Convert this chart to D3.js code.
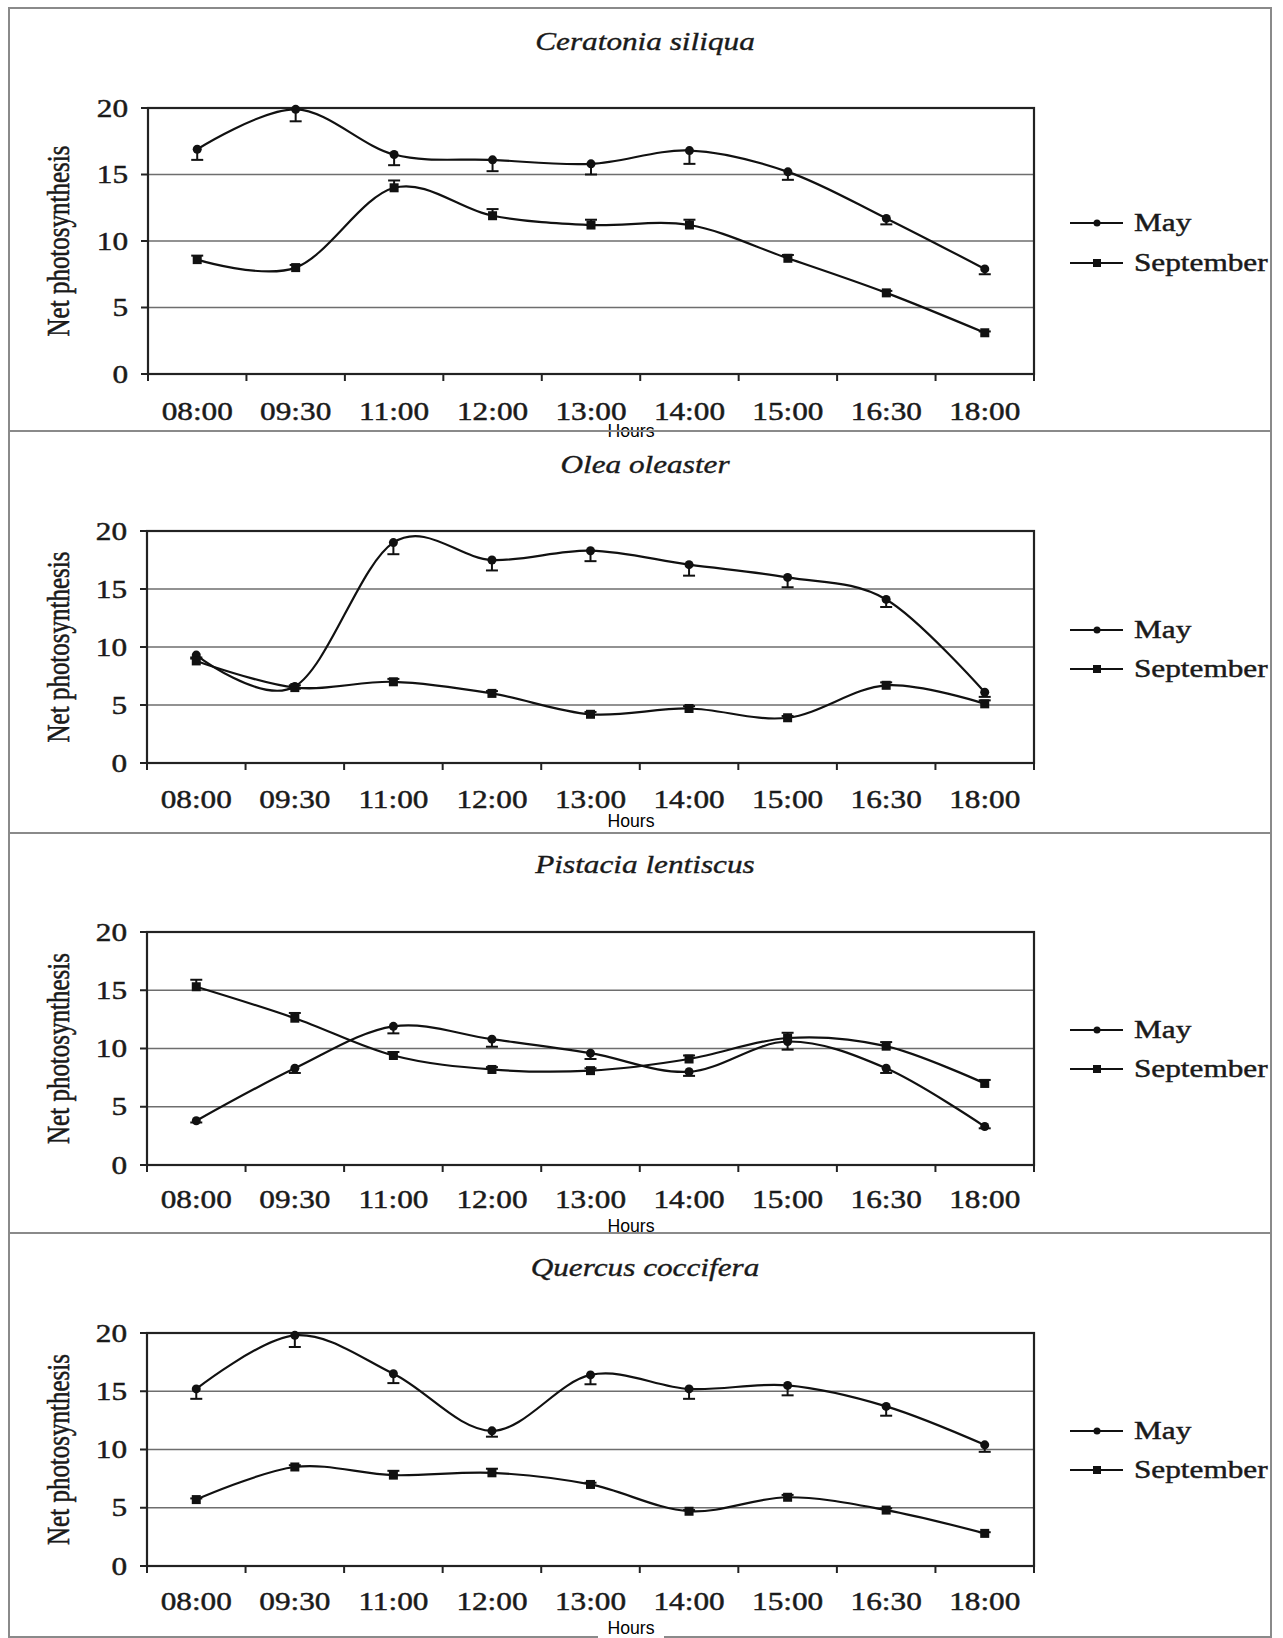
<!DOCTYPE html>
<html>
<head>
<meta charset="utf-8">
<script src="https://cdn.jsdelivr.net/npm/d3@7"></script>
<style>
body { margin: 0; background: #fff; }
svg { display: block; }
</style>
</head>
<body>
<main></main>
<script>
// Data
const hours = ['08:00', '09:30', '11:00', '12:00', '13:00', '14:00', '15:00', '16:30', '18:00']
const species = ['Ceratonia siliqua', 'Olea oleaster', 'Pistacia lentiscus', 'Quercus coccifera']
const seriesNames = ['May', 'September']
const yTicks = [0, 5, 10, 15, 20]
const axisTitleY = 'Net photosynthesis'
const axisTitleX = 'Hours'

const ceratoniaMay = [16.9, 19.9, 16.5, 16.1, 15.8, 16.8, 15.2, 11.7, 7.9]
const ceratoniaMayErr = [0.8, 0.9, 0.8, 0.85, 0.8, 1.0, 0.6, 0.45, 0.4]
const ceratoniaSep = [8.6, 8.0, 14.0, 11.9, 11.2, 11.2, 8.7, 6.1, 3.1]
const ceratoniaSepErr = [0.3, 0.2, 0.55, 0.5, 0.4, 0.4, 0.25, 0.15, 0.1]

const oleaMay = [9.3, 6.6, 19.0, 17.5, 18.3, 17.1, 16.0, 14.1, 6.1]
const oleaMayErr = [0.3, 0.2, 1.0, 0.9, 0.9, 0.95, 0.85, 0.65, 0.4]
const oleaSep = [8.8, 6.5, 7.0, 6.0, 4.2, 4.7, 3.9, 6.7, 5.1]
const oleaSepErr = [0.3, 0.2, 0.25, 0.2, 0.2, 0.2, 0.15, 0.25, 0.3]

const pistaciaMay = [3.8, 8.3, 11.9, 10.8, 9.6, 8.0, 10.6, 8.3, 3.3]
const pistaciaMayErr = [0.15, 0.4, 0.6, 0.65, 0.5, 0.35, 0.7, 0.4, 0.15]
const pistaciaSep = [15.3, 12.6, 9.4, 8.2, 8.1, 9.1, 10.9, 10.2, 7.0]
const pistaciaSepErr = [0.6, 0.45, 0.3, 0.2, 0.2, 0.3, 0.45, 0.35, 0.3]

const quercusMay = [15.2, 19.8, 16.5, 11.6, 16.4, 15.2, 15.5, 13.7, 10.4]
const quercusMayErr = [0.85, 1.0, 0.8, 0.5, 0.8, 0.85, 0.85, 0.8, 0.6]
const quercusSep = [5.7, 8.5, 7.8, 8.0, 7.0, 4.7, 5.9, 4.8, 2.8]
const quercusSepErr = [0.1, 0.15, 0.37, 0.35, 0.15, 0.1, 0.2, 0.15, 0.1]

const panels = [
    {title: species[0], series: [[ceratoniaMay, ceratoniaMayErr], [ceratoniaSep, ceratoniaSepErr]]},
    {title: species[1], series: [[oleaMay, oleaMayErr], [oleaSep, oleaSepErr]]},
    {title: species[2], series: [[pistaciaMay, pistaciaMayErr], [pistaciaSep, pistaciaSepErr]]},
    {title: species[3], series: [[quercusMay, quercusMayErr], [quercusSep, quercusSepErr]]}
]

// Layout (pixel positions per panel)
const layout = [
    {frame: [8, 431], title: 50, plot: [148, 1034, 108, 374], xlab: 420, hours: 437, legend: [231, 271]},
    {frame: [431, 833], title: 473, plot: [147, 1034, 531, 763], xlab: 808, hours: 827, legend: [638, 677]},
    {frame: [833, 1233], title: 873, plot: [147, 1034, 932, 1165], xlab: 1208, hours: 1232, legend: [1038, 1077]},
    {frame: [1233, 1637], title: 1276, plot: [147, 1034, 1333, 1566], xlab: 1610, hours: 1634, legend: [1439, 1478]}
]

const width = 1283
const height = 1638
const serif = '"Liberation Serif", "Times New Roman", serif'
const sans = '"Liberation Sans", Arial, sans-serif'
const stretch = 1.25
const fontSize = 25
const errDir = [-1, 1]

const svg = d3.select('main')
    .append('svg')
    .attr('width', width)
    .attr('height', height)

svg.append('rect')
    .attr('width', width)
    .attr('height', height)
    .attr('fill', '#fff')

const wideText = (g, x, y, str, anchor, extra = '') => g.append('text')
    .attr('transform', `translate(${x},${y}) scale(${stretch},1)${extra}`)
    .attr('text-anchor', anchor)
    .attr('font-family', serif)
    .attr('font-size', fontSize)
    .attr('fill', '#1a1a1a')
    .attr('stroke', '#1a1a1a')
    .attr('stroke-width', 0.45)
    .text(str)

panels.forEach((panel, p) => {
    const L = layout[p]
    const [left, right, top, bottom] = L.plot
    const g = svg.append('g')

    // frame
    g.append('rect')
        .attr('x', 9)
        .attr('y', L.frame[0])
        .attr('width', 1262)
        .attr('height', L.frame[1] - L.frame[0])
        .attr('fill', 'none')
        .attr('stroke', '#8a8a8a')
        .attr('stroke-width', 2)

    const x = d3.scalePoint().domain(hours).range([left, right]).padding(0.5)
    const band = d3.scaleBand().domain(hours).range([left, right])
    const y = d3.scaleLinear().domain([0, 20]).range([bottom, top])

    // gridlines
    g.selectAll('.grid')
        .data(yTicks.filter(t => t > 0 && t < 20))
        .enter()
        .append('line')
        .attr('x1', left)
        .attr('x2', right)
        .attr('y1', d => y(d))
        .attr('y2', d => y(d))
        .attr('stroke', '#6e6e6e')
        .attr('stroke-width', 1.6)

    // plot box
    g.append('rect')
        .attr('x', left)
        .attr('y', top)
        .attr('width', right - left)
        .attr('height', bottom - top)
        .attr('fill', 'none')
        .attr('stroke', '#222')
        .attr('stroke-width', 2.2)

    // y ticks + labels
    yTicks.forEach(t => {
        g.append('line')
            .attr('x1', left - 7)
            .attr('x2', left)
            .attr('y1', y(t))
            .attr('y2', y(t))
            .attr('stroke', '#222')
            .attr('stroke-width', 2)
        wideText(g, left - 20, y(t) + 8.5, t, 'end')
    })

    // x ticks at band edges
    const edges = hours.map(h => band(h)).concat([right])
    edges.forEach(e => {
        g.append('line')
            .attr('x1', e)
            .attr('x2', e)
            .attr('y1', bottom)
            .attr('y2', bottom + 7)
            .attr('stroke', '#222')
            .attr('stroke-width', 2)
    })
    hours.forEach(h => wideText(g, x(h), L.xlab, h, 'middle'))

    // titles
    g.append('text')
        .attr('transform', `translate(645,${L.title}) scale(${stretch},1)`)
        .attr('text-anchor', 'middle')
        .attr('font-family', serif)
        .attr('font-style', 'italic')
        .attr('font-size', fontSize)
        .attr('fill', '#1a1a1a')
        .attr('stroke', '#1a1a1a')
        .attr('stroke-width', 0.35)
        .text(panel.title)

    wideText(g, 69, (top + bottom) / 2, axisTitleY, 'middle', ' rotate(-90)')

    // Hours label with white backing
    const hx = 631
    g.append('rect')
        .attr('x', hx - 33)
        .attr('y', L.hours - 15)
        .attr('width', 66)
        .attr('height', 22)
        .attr('fill', '#fff')
    g.append('text')
        .attr('transform', `translate(${hx},${L.hours}) scale(0.93,1)`)
        .attr('text-anchor', 'middle')
        .attr('font-family', sans)
        .attr('font-size', 19)
        .attr('fill', '#000')
        .text(axisTitleX)

    // series
    const line = d3.line()
        .x((d, i) => x(hours[i]))
        .y(d => y(d))
        .curve(d3.curveCardinal)

    panel.series.forEach(([vals, errs], s) => {
        g.append('path')
            .datum(vals)
            .attr('d', line)
            .attr('fill', 'none')
            .attr('stroke', '#111')
            .attr('stroke-width', 2.2)

        vals.forEach((v, i) => {
            const cx = x(hours[i])
            const ey = y(v + errDir[s] * errs[i])
            g.append('line')
                .attr('x1', cx).attr('x2', cx)
                .attr('y1', y(v)).attr('y2', ey)
                .attr('stroke', '#111').attr('stroke-width', 2)
            g.append('line')
                .attr('x1', cx - 6).attr('x2', cx + 6)
                .attr('y1', ey).attr('y2', ey)
                .attr('stroke', '#111').attr('stroke-width', 2)
        })

        const marks = g.selectAll(null).data(vals).enter()
        if (s === 0) {
            marks.append('circle')
                .attr('cx', (d, i) => x(hours[i]))
                .attr('cy', d => y(d))
                .attr('r', 4.5)
                .attr('fill', '#111')
        } else {
            marks.append('rect')
                .attr('x', (d, i) => x(hours[i]) - 4.5)
                .attr('y', d => y(d) - 4.5)
                .attr('width', 9)
                .attr('height', 9)
                .attr('fill', '#111')
        }
    })

    // legend
    seriesNames.forEach((name, s) => {
        const ly = L.legend[s] - 8
        g.append('line')
            .attr('x1', 1070).attr('x2', 1123)
            .attr('y1', ly).attr('y2', ly)
            .attr('stroke', '#111').attr('stroke-width', 2)
        if (s === 0) {
            g.append('circle').attr('cx', 1097).attr('cy', ly).attr('r', 3.5).attr('fill', '#111')
        } else {
            g.append('rect').attr('x', 1093).attr('y', ly - 4).attr('width', 8).attr('height', 8).attr('fill', '#111')
        }
        wideText(g, 1134, L.legend[s], name, 'start')
    })
})
</script>
</body>
</html>
